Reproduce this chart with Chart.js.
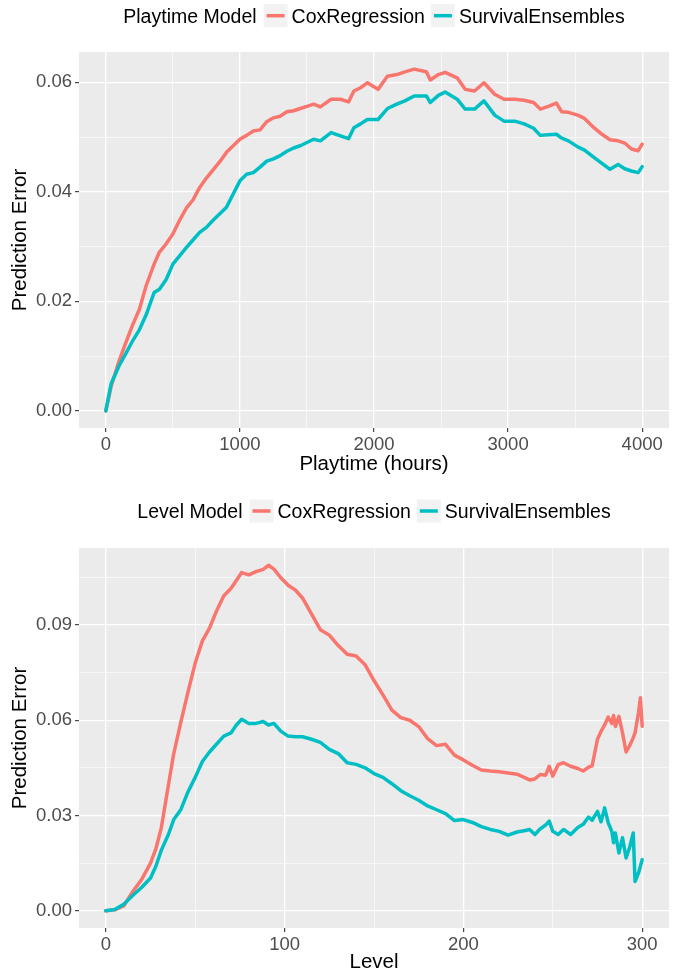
<!DOCTYPE html>
<html>
<head>
<meta charset="utf-8">
<script src="https://cdn.jsdelivr.net/npm/chart.js@4.4.1/dist/chart.umd.min.js"></script>
<style>
  html, body { margin: 0; padding: 0; background: #fff; }
  .panel { position: absolute; left: 0; width: 678px; }
</style>
</head>
<body>
<div class="panel" style="top:0;height:487px"><canvas id="playtimeChart" width="678" height="487"></canvas></div>
<div class="panel" style="top:487px;height:488px"><canvas id="levelChart" width="678" height="488"></canvas></div>
<script>
// series shared by both panels
const seriesNames = ['CoxRegression', 'SurvivalEnsembles'];
const seriesColors = ['#F8766D', '#00BFC4'];

// top panel: prediction error over playtime
const playtimeHours = [0, 40, 100, 150, 200, 250, 300, 360, 400, 450, 500, 550, 600, 650, 700, 750, 800, 850, 900, 950,
  1000, 1050, 1100, 1150, 1200, 1250, 1300, 1350, 1400, 1450, 1500, 1550, 1600, 1680, 1750, 1810, 1850, 1900, 1950, 2030,
  2100, 2170, 2230, 2300, 2390, 2420, 2480, 2530, 2620, 2680, 2750, 2820, 2900, 2970, 3050, 3120, 3190, 3240, 3300, 3360,
  3400, 3450, 3520, 3570, 3640, 3700, 3760, 3820, 3870, 3920, 3970, 4000];
const playtimeCox = [0, 0.0045, 0.0092, 0.0125, 0.0157, 0.0185, 0.0228, 0.0268, 0.0290, 0.0305, 0.0323, 0.0348, 0.0370, 0.0385, 0.0408, 0.0425, 0.0440, 0.0455, 0.0472, 0.0484,
  0.0496, 0.0503, 0.0511, 0.0513, 0.0528, 0.0535, 0.0538, 0.0546, 0.0548, 0.0552, 0.0556, 0.0560, 0.0555, 0.0569, 0.0569, 0.0564, 0.0584, 0.0590, 0.0599, 0.0587,
  0.0611, 0.0614, 0.0619, 0.0624, 0.0619, 0.0604, 0.0614, 0.0618, 0.0608, 0.0587, 0.0584, 0.0599, 0.0578, 0.0569, 0.0569, 0.0567, 0.0563, 0.0551, 0.0556, 0.0562,
  0.0546, 0.0545, 0.0540, 0.0534, 0.0517, 0.0505, 0.0495, 0.0493, 0.0489, 0.0478, 0.0475, 0.0487];
const playtimeEnsembles = [0, 0.0050, 0.0083, 0.0105, 0.0128, 0.0148, 0.0175, 0.0216, 0.0222, 0.0240, 0.0268, 0.0283, 0.0298, 0.0312, 0.0326, 0.0335, 0.0348, 0.0360, 0.0372, 0.0396,
  0.0420, 0.0432, 0.0435, 0.0445, 0.0456, 0.0460, 0.0466, 0.0474, 0.0480, 0.0484, 0.0490, 0.0496, 0.0493, 0.0508, 0.0502, 0.0497, 0.0517, 0.0524, 0.0532, 0.0532,
  0.0552, 0.0560, 0.0566, 0.0575, 0.0575, 0.0563, 0.0576, 0.0582, 0.0569, 0.0551, 0.0551, 0.0566, 0.0540, 0.0529, 0.0529, 0.0524, 0.0516, 0.0503, 0.0504, 0.0505,
  0.0498, 0.0493, 0.0482, 0.0476, 0.0463, 0.0452, 0.0441, 0.0450, 0.0442, 0.0438, 0.0435, 0.0446];
const playtimeTicks = [0, 1000, 2000, 3000, 4000];
const playtimeErrorTicks = [0, 0.02, 0.04, 0.06];

// bottom panel: prediction error over level
const levels = [0, 5, 10, 15, 20, 25, 28, 31, 35, 38, 42, 46, 50, 54, 58, 62, 66, 70, 73, 76,
  80, 84, 88, 91, 94, 98, 102, 106, 110, 115, 120, 125, 130, 135, 140, 145, 150, 155, 160, 165,
  170, 175, 180, 185, 190, 195, 200, 205, 210, 215, 220, 225, 230, 234, 237, 240, 243, 246, 248, 250,
  253, 256, 260, 264, 267, 270, 272, 275, 277, 279, 281, 283, 284, 285, 287, 289, 291, 293, 295, 296,
  298, 299, 300];
const levelCox = [0, 0.0003, 0.0015, 0.0060, 0.0098, 0.0150, 0.0195, 0.0260, 0.0395, 0.0495, 0.0595, 0.0690, 0.0780, 0.0850, 0.0890, 0.0945, 0.0992, 0.1015, 0.1040, 0.1065,
  0.1058, 0.1068, 0.1075, 0.1088, 0.1076, 0.1048, 0.1025, 0.1010, 0.0985, 0.0935, 0.0885, 0.0868, 0.0835, 0.0808, 0.0802, 0.0775, 0.0725, 0.0680, 0.0632, 0.0608,
  0.0600, 0.0580, 0.0542, 0.0520, 0.0524, 0.0490, 0.0475, 0.0458, 0.0443, 0.0440, 0.0438, 0.0434, 0.0430, 0.0420, 0.0412, 0.0415, 0.0429, 0.0427, 0.0455, 0.0424,
  0.0460, 0.0466, 0.0455, 0.0448, 0.0440, 0.0452, 0.0456, 0.0540, 0.0565, 0.0585, 0.0610, 0.0590, 0.0615, 0.0580, 0.0612, 0.0560, 0.0500, 0.0520, 0.0545, 0.0560,
  0.0625, 0.0671, 0.0581];
const levelEnsembles = [0, 0.0004, 0.0020, 0.0048, 0.0073, 0.0103, 0.0140, 0.0190, 0.0240, 0.0287, 0.0319, 0.0375, 0.0420, 0.0470, 0.0500, 0.0525, 0.0550, 0.0560, 0.0585, 0.0603,
  0.0590, 0.0590, 0.0596, 0.0585, 0.0590, 0.0565, 0.0550, 0.0548, 0.0548, 0.0540, 0.0530, 0.0508, 0.0495, 0.0466, 0.0461, 0.0450, 0.0432, 0.0420, 0.0400, 0.0378,
  0.0362, 0.0348, 0.0330, 0.0318, 0.0306, 0.0284, 0.0287, 0.0278, 0.0265, 0.0256, 0.0250, 0.0238, 0.0248, 0.0252, 0.0256, 0.0240, 0.0258, 0.0270, 0.0282, 0.0250,
  0.0240, 0.0256, 0.0240, 0.0262, 0.0272, 0.0295, 0.0285, 0.0313, 0.0280, 0.0324, 0.0277, 0.0250, 0.0214, 0.0245, 0.0182, 0.0230, 0.0166, 0.0200, 0.0245, 0.0092,
  0.0120, 0.0140, 0.0161];
const levelTicks = [0, 100, 200, 300];
const levelErrorTicks = [0, 0.03, 0.06, 0.09];

const FONT = '"Liberation Sans", Arial, Helvetica, sans-serif';

// ggplot-like 5% padding around the data
function expand(values) {
  const lo = Math.min(...values), hi = Math.max(...values);
  const pad = (hi - lo) * 0.05;
  return { min: lo - pad, max: hi + pad };
}

// major breaks plus minor breaks half way between them
function withMinors(majors, min, max) {
  const step = majors[1] - majors[0];
  const out = [];
  const first = majors[0] - step / 2;
  for (let v = first; v <= max + 1e-12; v += step / 2) {
    if (v >= min - 1e-12) out.push(+v.toFixed(6));
  }
  return out;
}

function isMajor(majors, v) {
  return majors.some(m => Math.abs(m - v) < 1e-9);
}

// grey panel behind the grid
const panelBackground = {
  id: 'panelBackground',
  beforeDraw(chart) {
    const { ctx, chartArea: a } = chart;
    ctx.save();
    ctx.fillStyle = '#EBEBEB';
    ctx.fillRect(a.left, a.top, a.right - a.left, a.bottom - a.top);
    ctx.restore();
  }
};

// legend with the title inline, like ggplot's top legend
const ggLegend = {
  id: 'ggLegend',
  afterDraw(chart, args, opts) {
    const ctx = chart.ctx;
    const key = 24, keyH = 23;
    ctx.save();
    ctx.font = '19.5px ' + FONT;
    ctx.textBaseline = 'alphabetic';
    ctx.textAlign = 'left';
    const titleW = ctx.measureText(opts.title).width;
    const sets = chart.data.datasets;
    let total = titleW + 7;
    sets.forEach((d, i) => {
      total += key + 4 + ctx.measureText(d.label).width + (i < sets.length - 1 ? 6 : 0);
    });
    let x = (chart.chartArea.left + chart.chartArea.right) / 2 - total / 2;
    const base = opts.baseline;
    const mid = base - 7;
    ctx.fillStyle = '#000';
    ctx.fillText(opts.title, x, base);
    x += titleW + 7;
    sets.forEach(d => {
      ctx.fillStyle = '#F2F2F2';
      ctx.fillRect(x, mid - keyH / 2, key, keyH);
      ctx.strokeStyle = d.borderColor;
      ctx.lineWidth = 3.5;
      ctx.beginPath();
      ctx.moveTo(x + 3, mid);
      ctx.lineTo(x + key - 3, mid);
      ctx.stroke();
      x += key + 4;
      ctx.fillStyle = '#000';
      ctx.fillText(d.label, x, base);
      x += ctx.measureText(d.label).width + 6;
    });
    ctx.restore();
  }
};

function gridFor(majors) {
  return {
    color: '#FFFFFF',
    lineWidth: c => (c.tick && isMajor(majors, c.tick.value)) ? 1.3 : 0.6,
    tickColor: c => (c.tick && isMajor(majors, c.tick.value)) ? '#333333' : 'rgba(0,0,0,0)',
    tickWidth: 1.1,
    tickLength: 4
  };
}

function buildChart(id, o) {
  const xr = expand(o.x);
  const yr = expand(o.cox.concat(o.ens));
  const xAll = withMinors(o.xMajor, xr.min, xr.max);
  const yAll = withMinors(o.yMajor, yr.min, yr.max);

  return new Chart(document.getElementById(id), {
    type: 'line',
    data: {
      datasets: [
        { label: seriesNames[0], data: o.x.map((v, i) => ({ x: v, y: o.cox[i] })), borderColor: seriesColors[0], order: 1 },
        { label: seriesNames[1], data: o.x.map((v, i) => ({ x: v, y: o.ens[i] })), borderColor: seriesColors[1], order: 0 }
      ]
    },
    options: {
      responsive: false,
      animation: false,
      layout: { padding: { top: o.top, right: 9, left: 0, bottom: 0 } },
      elements: {
        point: { radius: 0 },
        line: { borderWidth: 3.5, tension: 0, borderJoinStyle: 'round', borderCapStyle: 'round', fill: false }
      },
      plugins: {
        legend: { display: false },
        tooltip: { enabled: false },
        ggLegend: { title: o.legendTitle, baseline: o.legendBaseline }
      },
      scales: {
        x: {
          type: 'linear',
          min: xr.min,
          max: xr.max,
          afterBuildTicks: s => { s.ticks = xAll.map(v => ({ value: v })); },
          afterFit: s => { s.height = o.xAxisHeight; },
          grid: gridFor(o.xMajor),
          border: { display: false },
          ticks: {
            autoSkip: false,
            maxRotation: 0,
            padding: 2,
            color: '#4D4D4D',
            font: { family: FONT, size: 18.5 },
            callback: v => isMajor(o.xMajor, v) ? String(v) : ''
          },
          title: {
            display: true,
            text: o.xTitle,
            color: '#000',
            font: { family: FONT, size: 20.5 },
            padding: { top: 0, bottom: o.xTitlePad }
          }
        },
        y: {
          type: 'linear',
          min: yr.min,
          max: yr.max,
          afterBuildTicks: s => { s.ticks = yAll.map(v => ({ value: v })); },
          afterFit: s => { s.width = 79; },
          grid: gridFor(o.yMajor),
          border: { display: false },
          ticks: {
            autoSkip: false,
            padding: 3,
            color: '#4D4D4D',
            font: { family: FONT, size: 18.5 },
            callback: v => isMajor(o.yMajor, v) ? v.toFixed(2) : ''
          },
          title: {
            display: true,
            text: 'Prediction Error',
            color: '#000',
            font: { family: FONT, size: 20.5 },
            padding: { top: 8, bottom: 0 }
          }
        }
      }
    },
    plugins: [panelBackground, ggLegend]
  });
}

buildChart('playtimeChart', {
  x: playtimeHours, cox: playtimeCox, ens: playtimeEnsembles,
  xMajor: playtimeTicks, yMajor: playtimeErrorTicks,
  xTitle: 'Playtime (hours)', legendTitle: 'Playtime Model',
  top: 52, xAxisHeight: 59, xTitlePad: 10, legendBaseline: 22.7
});

buildChart('levelChart', {
  x: levels, cox: levelCox, ens: levelEnsembles,
  xMajor: levelTicks, yMajor: levelErrorTicks,
  xTitle: 'Level', legendTitle: 'Level Model',
  top: 61, xAxisHeight: 47, xTitlePad: 0, legendBaseline: 31
});
</script>
</body>
</html>
